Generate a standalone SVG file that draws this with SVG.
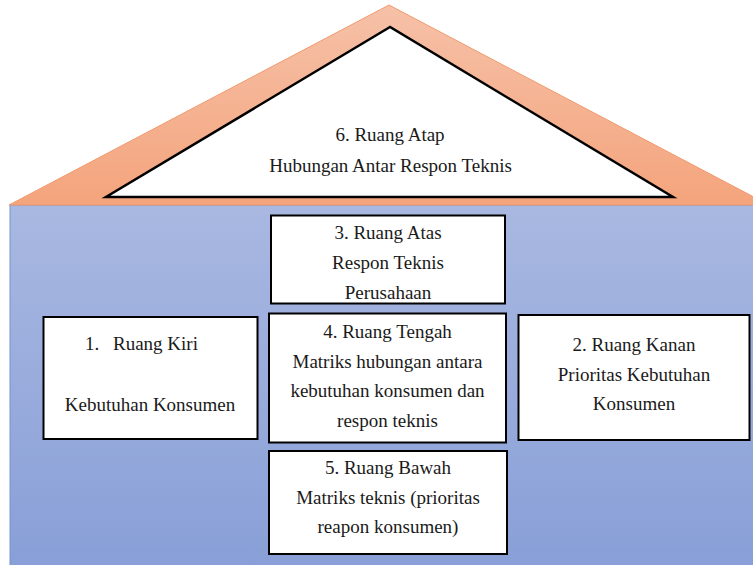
<svg xmlns="http://www.w3.org/2000/svg" width="753" height="565" viewBox="0 0 753 565">
  <defs>
    <linearGradient id="roofGrad" x1="0" y1="0" x2="0" y2="1">
      <stop offset="0" stop-color="#f6c1a8"/>
      <stop offset="1" stop-color="#f4a47c"/>
    </linearGradient>
    <linearGradient id="bodyGrad" x1="0" y1="0" x2="0" y2="1">
      <stop offset="0" stop-color="#a9b8e1"/>
      <stop offset="1" stop-color="#889fd7"/>
    </linearGradient>
  </defs>
  <style>
    .box { fill: #ffffff; stroke: #000000; stroke-width: 2; }
  </style>

  <rect width="753" height="565" fill="#ffffff"/>

  <!-- House body -->
  <rect id="body" x="10" y="205" width="745" height="362" fill="url(#bodyGrad)" stroke="#7a92d2" stroke-width="1"/>

  <!-- Roof (node 6) -->
  <g id="node6">
    <polygon points="389,5 9,205 769,205" fill="url(#roofGrad)" stroke="#ef9a6c" stroke-width="1"/>
    <polygon points="390,27 106,197 673,197" fill="#ffffff" stroke="#000000" stroke-width="2.5" stroke-linejoin="miter"/>
    <text font-family="Liberation Serif" font-size="19" fill="#1a1a1a" text-anchor="middle" x="390" y="141">6. Ruang Atap</text>
    <text font-family="Liberation Serif" font-size="19" fill="#1a1a1a" text-anchor="middle" x="390.5" y="171.5">Hubungan Antar Respon Teknis</text>
  </g>

  <!-- Node 3 -->
  <g id="node3">
    <rect class="box" x="271" y="215.5" width="234" height="88"/>
    <text font-family="Liberation Serif" font-size="19" fill="#1a1a1a" text-anchor="middle" x="388" y="239">3. Ruang Atas</text>
    <text font-family="Liberation Serif" font-size="19" fill="#1a1a1a" text-anchor="middle" x="388" y="269">Respon Teknis</text>
    <text font-family="Liberation Serif" font-size="19" fill="#1a1a1a" text-anchor="middle" x="388" y="299">Perusahaan</text>
  </g>

  <!-- Node 1 -->
  <g id="node1">
    <rect class="box" x="43.5" y="317" width="214" height="122"/>
    <text font-family="Liberation Serif" font-size="19" fill="#1a1a1a" x="85" y="350">1.</text>
    <text font-family="Liberation Serif" font-size="19" fill="#1a1a1a" x="113" y="350">Ruang Kiri</text>
    <text font-family="Liberation Serif" font-size="19" fill="#1a1a1a" text-anchor="middle" x="150" y="411">Kebutuhan Konsumen</text>
  </g>

  <!-- Node 4 -->
  <g id="node4">
    <rect class="box" x="269" y="313.5" width="237" height="129"/>
    <text font-family="Liberation Serif" font-size="19" fill="#1a1a1a" text-anchor="middle" x="387.5" y="338">4. Ruang Tengah</text>
    <text font-family="Liberation Serif" font-size="19" fill="#1a1a1a" text-anchor="middle" x="387.5" y="367.5">Matriks hubungan antara</text>
    <text font-family="Liberation Serif" font-size="19" fill="#1a1a1a" text-anchor="middle" x="387.5" y="397">kebutuhan konsumen dan</text>
    <text font-family="Liberation Serif" font-size="19" fill="#1a1a1a" text-anchor="middle" x="387.5" y="426.5">respon teknis</text>
  </g>

  <!-- Node 2 -->
  <g id="node2">
    <rect class="box" x="518.5" y="315" width="231" height="125"/>
    <text font-family="Liberation Serif" font-size="19" fill="#1a1a1a" text-anchor="middle" x="634" y="351">2. Ruang Kanan</text>
    <text font-family="Liberation Serif" font-size="19" fill="#1a1a1a" text-anchor="middle" x="634" y="380.5">Prioritas Kebutuhan</text>
    <text font-family="Liberation Serif" font-size="19" fill="#1a1a1a" text-anchor="middle" x="634" y="410">Konsumen</text>
  </g>

  <!-- Node 5 -->
  <g id="node5">
    <rect class="box" x="269" y="451" width="238" height="103"/>
    <text font-family="Liberation Serif" font-size="19" fill="#1a1a1a" text-anchor="middle" x="388" y="474">5. Ruang Bawah</text>
    <text font-family="Liberation Serif" font-size="19" fill="#1a1a1a" text-anchor="middle" x="388" y="503.5">Matriks teknis (prioritas</text>
    <text font-family="Liberation Serif" font-size="19" fill="#1a1a1a" text-anchor="middle" x="388" y="533">reapon konsumen)</text>
  </g>
</svg>
